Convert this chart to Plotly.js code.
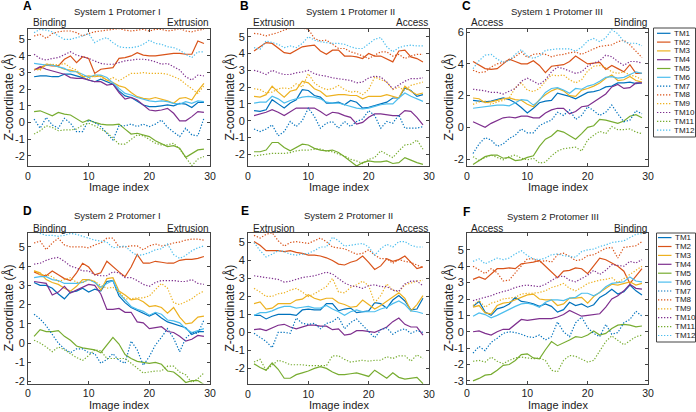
<!DOCTYPE html>
<html><head><meta charset="utf-8">
<script src="https://cdn.plot.ly/plotly-3.0.1.min.js"></script>
<style>html,body{margin:0;padding:0;background:#fff}#chart{width:696px;height:412px}</style>
</head><body><div id="chart"></div>
<script>
const imageIndex = [1,2,3,4,5,6,7,8,9,10,11,12,13,14,15,16,17,18,19,20,21,22,23,24,25,26,27,28,29];
const tmNames = ['TM1','TM2','TM3','TM4','TM5','TM6','TM7','TM8','TM9','TM10','TM11','TM12'];

// Panel A: System 1 Protomer I
const A_TM1 = [2.75,2.8,2.8,2.75,2.75,2.9,2.9,2.8,2.7,2.55,2.45,2.6,2.45,2.3,1.9,1.6,1.5,1.3,1.05,0.95,0.95,1.0,1.05,1.0,1.15,1.1,0.9,1.2,1.2];
const A_TM2 = [3.15,3.3,3.45,3.4,3.4,3.8,4.0,3.6,3.95,3.85,2.95,3.2,3.25,3.3,3.85,3.9,4.0,4.2,4.05,4.0,4.0,4.05,4.1,4.15,4.15,4.1,4.1,4.9,4.75];
const A_TM3 = [3.2,3.2,3.5,3.45,3.35,3.2,3.15,3.05,2.75,2.8,2.75,2.8,2.55,2.4,2.2,2.1,1.8,1.55,1.45,1.4,1.5,1.4,1.3,1.15,1.45,1.5,1.35,1.9,2.35];
const A_TM4 = [3.15,3.35,3.2,3.1,3.0,2.9,2.7,2.65,2.65,2.55,2.45,2.45,2.25,2.3,1.8,1.4,1.5,1.35,1.05,0.75,0.7,0.75,0.85,0.55,0.1,0.1,0.35,0.65,0.6];
const A_TM5 = [0.65,0.7,0.55,0.4,0.6,0.5,0.45,0.2,0.0,0.15,0.0,-0.1,-0.15,-0.15,-0.1,-0.4,-0.7,-0.65,-0.75,-0.85,-1.1,-1.3,-1.45,-1.4,-1.55,-2.1,-1.85,-1.65,-1.6];
const A_TM6 = [3.55,3.5,3.45,3.45,3.35,3.25,3.05,3.05,2.9,2.7,2.85,2.85,2.7,2.35,2.05,1.75,1.65,1.5,1.4,1.3,1.25,1.3,1.25,1.15,1.1,1.25,1.15,1.3,1.25];
const A_TM7 = [0.2,-0.35,0.3,-0.15,-0.35,0.25,-0.05,-0.55,-0.55,0.15,0.0,-0.25,-0.65,-1.05,-0.2,-0.2,-0.1,-0.25,-0.1,-0.25,-0.1,0.15,-0.3,-0.6,-0.85,-0.35,-0.75,-0.8,0.25];
const A_TM8 = [5.2,5.3,5.05,5.35,5.45,5.5,5.5,5.4,5.2,5.35,5.45,5.5,5.55,5.6,5.65,5.55,5.5,5.55,5.6,5.5,5.6,5.6,5.5,5.55,5.65,5.5,5.45,5.55,5.6];
const A_TM9 = [3.2,3.15,3.5,3.5,3.45,3.55,3.3,3.15,2.8,2.6,2.85,2.75,2.5,2.7,2.5,2.75,2.95,2.95,3.0,2.95,2.95,2.95,2.9,2.75,2.6,2.3,2.0,1.75,2.2];
const A_TM10 = [4.1,3.85,3.75,3.85,3.9,4.1,4.25,4.05,3.95,3.85,3.7,3.55,3.5,3.5,3.6,3.7,3.75,3.8,3.8,3.75,3.65,3.5,3.55,3.35,3.15,2.75,2.55,2.85,2.8];
const A_TM11 = [-0.7,-0.5,-0.2,-0.3,-0.5,-0.45,-0.45,-0.4,-0.15,-0.05,-0.2,-0.4,-0.6,-0.95,-1.3,-1.3,-1.05,-0.75,-0.8,-1.0,-1.25,-1.35,-1.35,-1.25,-1.6,-2.1,-2.6,-2.2,-2.05];
const A_TM12 = [5.4,5.6,5.55,5.45,5.2,5.0,5.0,5.1,5.2,5.35,4.8,5.0,5.1,4.8,4.55,4.5,4.5,4.55,4.7,4.95,4.75,4.7,4.55,4.5,4.35,4.1,3.9,4.25,4.25];

// Panel B: System 1 Protomer II
const B_TM1 = [0.6,0.55,0.65,1.25,1.0,0.75,1.05,1.25,1.85,1.8,1.5,1.4,1.05,1.05,1.1,0.95,1.2,1.1,0.75,0.8,0.9,1.0,1.1,1.35,1.35,1.95,1.8,1.45,1.55];
const B_TM2 = [4.15,4.4,4.65,4.6,4.3,4.05,4.0,4.2,4.4,4.45,4.5,4.15,3.95,4.2,4.2,3.85,3.85,3.8,3.7,4.0,3.85,3.85,3.65,3.5,4.15,4.2,3.8,3.7,3.5];
const B_TM3 = [1.45,1.4,1.55,2.05,1.7,1.4,1.75,1.85,2.35,2.25,1.9,1.75,1.45,1.5,1.55,1.55,1.5,1.5,1.3,1.45,1.45,1.45,1.55,1.45,1.35,2.05,1.75,1.55,1.65];
const B_TM4 = [0.3,0.4,0.5,0.65,0.5,0.3,0.5,0.75,0.75,0.75,0.75,0.55,0.3,0.5,0.45,0.3,0.2,-0.2,-0.1,0.2,0.4,0.4,0.35,0.3,0.3,0.6,0.55,0.2,-0.25];
const B_TM5 = [-1.85,-1.85,-1.75,-1.3,-1.3,-1.6,-1.8,-1.6,-1.4,-1.45,-1.65,-1.75,-1.8,-1.75,-1.9,-2.15,-2.45,-2.7,-2.5,-2.4,-2.45,-2.45,-2.4,-2.55,-2.5,-2.2,-2.35,-2.5,-2.6];
const B_TM6 = [1.05,1.1,1.1,1.45,1.3,1.05,1.2,1.3,1.4,1.45,1.4,1.3,1.1,1.05,1.05,0.95,0.85,0.75,0.7,0.75,0.85,0.95,1.0,1.0,1.35,1.65,1.45,1.3,1.15];
const B_TM7 = [-0.5,-0.65,-0.5,-0.25,-0.9,-0.65,-0.05,-0.35,0.0,0.75,0.25,-0.45,-0.15,-0.05,-0.45,-0.05,-0.35,-0.05,0.1,0.6,0.3,-0.45,-0.05,-0.15,0.35,-0.45,-0.45,-0.45,-0.35];
const B_TM8 = [5.2,5.15,5.05,5.15,5.25,5.4,5.5,5.5,5.5,5.45,4.9,4.75,4.8,4.55,4.3,4.3,4.1,4.0,3.85,3.7,3.9,4.1,4.1,3.85,3.95,3.7,3.85,3.95,3.95];
const B_TM9 = [1.9,1.85,1.65,1.7,1.9,1.95,1.9,2.2,2.0,2.8,2.25,2.0,1.85,1.9,2.1,1.85,1.7,1.75,1.55,1.85,2.6,2.45,2.3,1.85,2.0,1.8,2.1,2.2,2.3];
const B_TM10 = [3.0,2.9,2.75,3.0,2.85,2.75,2.75,2.85,2.9,3.0,2.8,2.7,2.65,2.55,2.5,2.45,2.4,2.25,2.3,2.55,2.65,2.6,2.3,1.9,2.15,2.35,2.5,2.5,2.55];
const B_TM11 = [-2.1,-2.05,-2.0,-1.95,-1.95,-1.95,-1.9,-1.8,-1.75,-1.75,-1.7,-1.7,-1.8,-1.85,-2.0,-2.1,-2.3,-2.4,-2.55,-2.3,-2.2,-1.8,-2.0,-2.2,-1.8,-1.45,-1.4,-1.15,-1.7];
const B_TM12 = [4.35,4.25,4.75,4.65,4.55,4.35,4.45,4.35,4.6,5.0,4.8,4.7,4.65,4.6,4.6,4.55,4.4,4.3,4.3,4.6,4.85,4.95,4.4,4.1,4.35,4.45,4.5,4.45,4.45];

// Panel C: System 1 Protomer III
const C_TM1 = [1.7,1.65,1.6,1.65,1.75,1.85,1.75,1.55,1.25,0.9,1.2,1.55,1.65,1.7,2.15,2.05,1.95,1.8,2.0,2.2,2.25,2.35,2.55,2.6,2.8,2.8,2.85,2.75,2.8];
const C_TM2 = [4.15,3.95,3.7,3.65,3.7,4.0,4.3,4.15,4.0,4.0,4.2,3.9,3.45,3.85,3.9,3.95,4.15,4.5,4.25,4.0,4.05,4.1,3.65,3.9,3.7,3.5,3.95,3.4,3.4];
const C_TM3 = [1.85,1.8,1.55,1.6,1.7,1.8,1.85,1.75,1.7,1.45,1.3,1.75,2.05,2.3,2.45,2.3,2.0,1.95,2.35,2.45,2.6,2.8,3.1,3.3,2.95,3.0,3.2,2.95,2.85];
const C_TM4 = [0.35,0.2,0.0,0.25,0.4,0.6,0.65,0.6,0.7,0.7,0.6,0.6,0.9,1.1,1.2,1.2,0.85,1.0,1.3,1.35,1.6,1.85,2.1,2.55,2.7,2.45,2.5,2.8,2.8];
const C_TM5 = [-2.35,-2.1,-1.85,-1.75,-1.75,-1.95,-1.9,-2.1,-2.05,-1.9,-1.8,-1.2,-0.75,-0.55,-0.2,-0.3,-0.55,-0.75,-0.4,0.0,0.1,0.5,0.45,0.35,0.25,0.4,0.7,0.8,0.6];
const C_TM6 = [1.2,1.25,1.3,1.35,1.4,1.4,1.35,1.55,1.75,1.7,1.4,1.7,2.2,2.45,2.5,2.35,2.15,2.45,2.4,2.6,2.7,2.9,3.15,3.2,3.1,3.15,3.3,3.5,3.4];
const C_TM7 = [-1.65,-1.05,-0.65,-0.8,-1.2,-1.05,-0.7,-0.5,-0.1,-0.35,-0.35,0.1,0.3,0.45,0.95,0.75,1.1,0.5,0.75,1.3,1.05,0.75,0.95,1.4,0.85,0.35,0.45,1.05,0.85];
const C_TM8 = [3.6,3.45,3.5,3.8,4.0,4.1,4.25,4.45,4.75,4.4,4.6,4.65,4.6,4.45,4.55,4.6,4.7,4.75,4.6,4.8,4.95,5.1,5.15,5.2,5.4,5.5,5.2,4.8,4.4];
const C_TM9 = [1.45,1.6,1.65,1.45,1.6,1.7,1.85,2.5,2.8,2.35,2.25,2.45,2.9,3.3,3.25,3.3,3.0,2.8,3.0,3.55,3.85,3.9,3.75,3.5,3.4,3.5,3.3,3.2,3.0];
const C_TM10 = [2.4,2.35,2.3,2.2,2.2,2.1,2.25,2.45,2.9,3.1,2.9,2.7,3.0,3.5,3.8,3.7,3.55,3.4,3.5,3.85,4.05,4.2,4.55,4.45,4.15,3.9,4.15,4.15,4.05];
const C_TM11 = [-1.85,-2.1,-1.9,-1.75,-1.9,-2.05,-1.85,-1.75,-1.95,-2.05,-1.95,-2.25,-2.2,-1.8,-1.5,-1.35,-1.3,-1.25,-1.5,-0.8,-0.5,-0.25,-0.4,0.05,-0.15,-0.15,-0.1,-0.3,-0.4];
const C_TM12 = [3.7,4.2,4.55,4.6,4.3,4.1,4.2,4.6,4.9,4.5,4.35,4.5,4.85,4.9,4.95,4.95,4.95,4.8,5.05,5.45,5.6,5.4,5.65,6.15,5.9,5.4,5.3,5.3,5.15];

// Panel D: System 2 Protomer I
const D_TM1 = [3.15,3.0,3.0,2.85,2.55,2.3,2.65,2.7,2.85,2.65,2.8,2.7,3.2,3.25,2.45,2.1,1.85,1.7,1.55,1.4,1.55,1.3,1.1,1.0,0.9,0.8,0.45,0.6,0.6];
const D_TM2 = [3.7,3.55,3.5,3.75,3.55,3.35,3.25,3.65,4.15,3.95,3.55,3.65,4.25,3.95,3.7,3.45,3.95,4.6,4.15,4.15,4.25,4.2,4.15,4.15,4.3,4.35,4.35,4.4,4.5];
const D_TM3 = [3.75,3.65,3.3,3.15,3.05,2.85,2.7,2.95,3.3,3.3,3.2,2.75,3.35,3.4,2.7,2.5,2.25,2.3,2.15,1.9,1.95,1.85,1.55,1.85,1.35,1.0,1.05,1.35,1.4];
const D_TM4 = [3.2,3.15,3.1,2.5,2.65,2.95,2.6,2.75,2.9,3.05,3.0,2.55,1.75,1.75,1.8,1.6,1.6,1.1,1.05,0.75,0.8,0.85,0.6,0.55,0.35,0.1,0.2,0.4,0.35];
const D_TM5 = [0.35,0.7,0.6,0.6,0.65,0.35,0.15,-0.15,-0.25,-0.3,-0.35,-0.5,-0.1,0.3,-0.05,-0.6,-0.8,-0.95,-1.0,-1.05,-1.0,-1.1,-1.45,-1.5,-1.75,-2.05,-1.95,-1.95,-2.15];
const D_TM6 = [3.4,3.45,3.45,3.3,3.25,3.1,3.1,3.1,3.15,3.3,3.15,2.9,3.1,3.25,2.6,2.25,1.9,1.75,1.65,1.45,1.6,1.5,1.2,1.15,1.05,0.75,0.55,0.65,0.75];
const D_TM7 = [1.5,1.25,0.9,0.45,0.0,-0.3,-0.5,-0.3,-0.3,-0.5,-0.55,-1.05,-0.85,-0.55,-0.9,-1.05,0.1,-0.35,-1.15,-0.7,-0.1,0.3,0.75,0.25,-0.45,0.25,0.55,0.5,1.2];
const D_TM8 = [5.2,5.3,4.85,5.2,5.45,5.1,5.0,5.0,5.0,4.95,5.1,5.2,5.45,5.45,5.0,5.0,5.05,5.05,4.85,5.05,5.15,5.05,5.1,5.2,5.25,5.35,5.4,5.4,5.35];
const D_TM9 = [3.75,3.55,3.55,3.45,3.2,3.3,3.4,3.15,3.15,3.3,3.2,3.0,2.85,2.9,2.65,2.3,2.3,2.35,2.35,2.45,2.75,3.1,2.85,2.1,2.0,2.15,2.3,2.55,2.7];
const D_TM10 = [4.1,4.15,4.3,4.4,4.45,4.25,4.0,3.9,3.75,3.75,3.55,3.5,3.5,3.7,3.65,3.4,3.4,3.25,3.05,2.95,3.15,3.25,3.25,3.25,3.2,3.2,3.3,3.1,3.05];
const D_TM11 = [0.15,0.0,-0.2,-0.45,-0.2,-0.35,-0.55,-0.75,-0.9,-0.65,-0.35,-0.4,-0.8,-0.8,-0.8,-0.8,-1.05,-1.3,-1.55,-1.5,-1.45,-1.45,-1.2,-1.2,-1.5,-1.65,-2.05,-1.85,-1.55];
const D_TM12 = [5.8,5.7,5.6,5.6,5.55,5.6,5.7,5.65,5.55,5.45,5.35,5.3,5.25,4.95,5.0,5.05,4.75,4.55,4.6,4.7,4.85,4.9,5.15,4.6,4.4,4.55,4.8,4.95,5.05];

// Panel E: System 2 Protomer II
const E_TM1 = [0.95,0.95,0.75,0.9,1.0,1.0,1.0,0.95,1.25,1.3,1.25,1.25,1.6,1.6,1.2,1.3,1.35,1.1,1.15,1.2,1.65,1.6,1.35,1.8,2.05,1.75,1.25,1.3,1.9];
const E_TM2 = [5.05,4.85,4.55,4.55,4.55,4.5,4.55,4.45,4.4,4.3,4.3,4.25,4.15,4.0,3.8,3.75,3.9,4.0,4.25,3.9,3.5,3.7,4.1,3.95,4.05,4.25,3.9,3.55,3.65];
const E_TM3 = [1.6,1.7,1.3,1.35,1.6,1.6,1.6,1.8,1.85,2.1,1.9,1.8,1.9,1.9,1.65,1.55,1.4,1.45,1.8,1.55,1.3,1.5,1.75,2.0,2.2,1.9,1.2,1.55,2.05];
const E_TM4 = [0.15,0.2,0.1,0.25,0.4,0.45,0.3,0.2,0.3,0.4,0.4,0.35,0.35,0.15,0.2,-0.15,-0.1,0.1,0.1,0.05,0.0,0.15,0.3,0.6,0.8,0.45,0.3,0.3,-0.15];
const E_TM5 = [-1.75,-1.95,-2.1,-1.7,-2.05,-2.55,-2.55,-2.35,-2.25,-2.15,-2.0,-1.9,-2.0,-2.2,-2.35,-2.35,-2.3,-2.25,-2.35,-2.45,-2.1,-2.35,-2.55,-2.25,-2.5,-2.6,-2.55,-2.5,-2.85];
const E_TM6 = [0.95,1.1,1.1,1.2,1.35,1.45,1.45,1.35,1.4,1.45,1.35,1.35,1.5,1.3,1.15,0.95,1.15,1.25,1.15,1.15,1.15,1.3,1.4,1.6,1.75,1.55,1.2,1.15,1.05];
const E_TM7 = [-0.05,-0.3,-0.5,-0.85,0.0,0.0,-0.05,0.8,0.5,0.45,0.5,0.2,0.5,0.6,0.85,0.2,0.55,0.75,0.4,0.0,-0.3,0.15,0.25,-0.1,0.1,0.2,-0.05,0.1,0.0];
const E_TM8 = [5.4,5.25,5.45,5.55,5.1,4.8,5.0,5.05,5.0,4.95,5.1,5.25,5.05,4.75,4.7,4.65,4.5,4.35,4.4,4.6,4.3,4.1,4.1,3.85,4.05,3.95,3.9,3.75,3.6];
const E_TM9 = [2.45,2.25,2.0,2.0,2.15,2.2,2.35,2.45,2.25,2.0,2.15,2.35,2.55,3.0,2.25,2.2,2.5,2.65,2.85,2.6,1.65,2.05,2.7,2.35,2.25,2.65,2.75,2.85,2.9];
const E_TM10 = [3.15,3.1,3.05,3.0,2.95,2.8,2.85,2.95,3.05,3.1,3.15,3.25,3.35,3.25,3.0,2.75,2.6,2.55,2.45,2.6,2.65,2.55,2.55,2.35,2.3,2.7,2.85,2.85,2.6];
const E_TM11 = [-1.65,-1.5,-2.1,-1.8,-1.55,-1.65,-1.8,-1.8,-1.8,-1.85,-1.85,-1.85,-1.85,-1.3,-1.3,-1.5,-1.65,-1.6,-1.55,-1.6,-1.55,-1.55,-1.35,-1.45,-1.3,-1.3,-1.6,-1.25,-1.45];
const E_TM12 = [5.0,4.55,4.2,4.35,4.55,4.5,4.35,4.3,4.35,4.4,4.55,4.75,4.75,5.3,5.1,4.8,4.85,4.9,4.95,4.75,4.3,4.65,4.9,4.75,5.05,5.05,4.85,4.75,4.75];

// Panel F: System 2 Protomer III
const F_TM1 = [1.55,1.85,1.2,1.0,1.4,1.5,1.7,2.1,1.85,1.8,1.7,1.55,1.7,1.55,1.2,1.35,1.8,1.6,1.7,1.5,1.65,2.1,2.3,2.6,2.3,2.45,2.85,2.5,2.25];
const F_TM2 = [3.2,3.35,3.2,3.5,3.85,3.85,3.9,3.85,4.15,4.2,4.25,4.35,4.0,3.65,3.3,3.7,3.75,3.9,3.85,3.55,4.05,4.5,4.4,4.2,4.0,3.7,2.95,3.4,3.85];
const F_TM3 = [1.5,1.6,1.15,1.1,1.6,1.75,1.8,1.95,2.1,2.25,2.3,2.0,1.95,1.95,1.6,1.7,2.05,2.05,2.1,1.75,2.15,2.4,2.6,2.9,2.85,2.95,3.05,2.85,2.95];
const F_TM4 = [0.0,0.05,-0.1,-0.2,0.0,0.15,0.15,0.45,0.75,0.7,0.75,0.8,0.8,0.8,0.9,1.05,1.3,1.15,0.95,1.0,1.05,1.1,1.5,2.0,2.2,2.5,2.9,2.65,2.6];
const F_TM5 = [-3.0,-2.85,-2.65,-2.6,-2.35,-2.05,-2.0,-1.75,-1.4,-1.35,-1.6,-1.65,-1.1,-0.6,-0.85,-0.7,-0.5,-0.3,-0.35,-0.2,0.05,-0.2,-0.1,0.2,0.4,0.45,0.4,0.3,0.35];
const F_TM6 = [0.95,1.15,1.05,0.85,1.0,1.2,1.4,1.55,1.7,1.75,1.65,1.5,1.8,1.95,1.95,1.9,2.05,2.1,2.35,2.35,2.2,2.4,2.75,2.95,3.0,3.05,3.35,3.1,3.05];
const F_TM7 = [-1.3,-0.9,-1.15,-0.65,-0.4,-0.1,0.0,-0.05,-0.15,-0.3,-0.35,-0.2,-0.5,-0.3,0.6,0.0,-0.3,0.55,0.9,0.25,-0.1,-0.3,0.45,-0.15,-0.05,0.55,0.75,1.25,0.95];
const F_TM8 = [4.0,3.75,3.55,3.85,3.6,3.1,3.15,3.6,4.0,4.45,4.45,4.25,4.35,4.25,4.7,4.8,4.6,4.35,4.4,4.65,4.7,4.9,5.1,5.15,4.5,5.15,5.2,5.25,5.5];
const F_TM9 = [1.6,1.9,1.5,1.75,1.85,2.0,2.05,2.1,2.3,2.35,2.35,2.4,2.5,2.7,2.8,2.95,2.65,2.5,2.7,2.95,3.05,3.15,3.2,3.3,3.0,3.25,3.45,3.75,4.0];
const F_TM10 = [1.9,2.0,2.1,2.2,2.35,2.45,2.55,2.7,2.8,2.85,2.8,2.75,2.9,3.1,3.35,3.4,3.15,3.05,3.25,3.45,3.75,3.5,3.75,4.1,4.05,4.0,4.3,4.2,4.4];
const F_TM11 = [-1.8,-1.75,-1.85,-1.55,-1.8,-1.95,-1.75,-1.6,-1.55,-1.6,-1.65,-1.6,-1.75,-2.35,-2.45,-1.75,-1.45,-1.5,-1.7,-1.85,-1.75,-1.2,-0.6,-0.25,-0.55,-0.8,-0.55,-0.3,-0.2];
const F_TM12 = [4.3,4.45,4.15,4.35,4.5,4.4,4.5,4.75,4.95,4.65,4.45,4.4,4.5,4.7,4.75,4.65,4.6,4.55,4.9,5.0,5.05,5.2,5.3,5.45,5.5,5.55,5.75,5.95,6.0];

const W = 696, H = 412;
const tmColors = ['#0072BD','#D95319','#EDB120','#7E2F8E','#77AC30','#4DBEEE','#0072BD','#D95319','#EDB120','#7E2F8E','#77AC30','#4DBEEE'];
const DOT = '1.3px,1.7px';
const tmDash = ['solid','solid','solid','solid','solid','solid',DOT,DOT,DOT,DOT,DOT,DOT];

const panels = [
  {letter:'A', title:'System 1 Protomer I', left:'Binding', right:'Extrusion', series:[A_TM1,A_TM2,A_TM3,A_TM4,A_TM5,A_TM6,A_TM7,A_TM8,A_TM9,A_TM10,A_TM11,A_TM12],
   yr:[-2.62,5.62], yt:[-2,-1,0,1,2,3,4,5], box:[28,210,29,166], letterPos:[27,6], titlePos:[117,12], sideY:23, ytitleX:8, xtitleY:186.5},
  {letter:'B', title:'System 1 Protomer II', left:'Extrusion', right:'Access', series:[B_TM1,B_TM2,B_TM3,B_TM4,B_TM5,B_TM6,B_TM7,B_TM8,B_TM9,B_TM10,B_TM11,B_TM12],
   yr:[-2.7,5.46], yt:[-2,-1,0,1,2,3,4,5], box:[248,429,29,166], letterPos:[245,6], titlePos:[350,12], sideY:23, ytitleX:229, xtitleY:186.5},
  {letter:'C', title:'System 1 Protomer III', left:'Access', right:'Binding', series:[C_TM1,C_TM2,C_TM3,C_TM4,C_TM5,C_TM6,C_TM7,C_TM8,C_TM9,C_TM10,C_TM11,C_TM12],
   yr:[-2.44,6.2], yt:[-2,0,2,4,6], box:[467,648,29,166], letterPos:[466,6], titlePos:[557,12], sideY:23, ytitleX:448, xtitleY:186.5},
  {letter:'D', title:'System 2 Protomer I', left:'Binding', right:'Extrusion', series:[D_TM1,D_TM2,D_TM3,D_TM4,D_TM5,D_TM6,D_TM7,D_TM8,D_TM9,D_TM10,D_TM11,D_TM12],
   yr:[-2.1,5.72], yt:[-2,-1,0,1,2,3,4,5], box:[28,210,233,383.5], letterPos:[27,211], titlePos:[117,215], sideY:228, ytitleX:8, xtitleY:404.5},
  {letter:'E', title:'System 2 Protomer II', left:'Extrusion', right:'Access', series:[E_TM1,E_TM2,E_TM3,E_TM4,E_TM5,E_TM6,E_TM7,E_TM8,E_TM9,E_TM10,E_TM11,E_TM12],
   yr:[-2.87,5.53], yt:[-2,-1,0,1,2,3,4,5], box:[248,429,233,384], letterPos:[245,211], titlePos:[349,215.5], sideY:228, ytitleX:229, xtitleY:404.5},
  {letter:'F', title:'System 2 Protomer III', left:'Access', right:'Binding', series:[F_TM1,F_TM2,F_TM3,F_TM4,F_TM5,F_TM6,F_TM7,F_TM8,F_TM9,F_TM10,F_TM11,F_TM12],
   yr:[-3.16,6.03], yt:[-3,-2,-1,0,1,2,3,4,5], box:[467,648,233,383.5], letterPos:[466,212], titlePos:[553,216], sideY:228, ytitleX:448, xtitleY:404.5}
];

const FONT = 'Liberation Sans, Arial, Helvetica, sans-serif';
const px = v => v / W;
const py = v => 1 - v / H;

const traces = [];
const layout = {
  width: W, height: H,
  margin: {l:0, r:0, t:0, b:0},
  paper_bgcolor: '#fff', plot_bgcolor: '#fff',
  showlegend: false,
  font: {family: FONT, color: '#222'},
  annotations: [], shapes: []
};

panels.forEach((p, k) => {
  const n = k + 1;
  const xs = n === 1 ? '' : String(n);
  p.series.forEach((s, i) => {
    traces.push({
      type: 'scatter', mode: 'lines', name: tmNames[i],
      x: imageIndex, y: s,
      xaxis: 'x' + xs, yaxis: 'y' + xs,
      line: {color: tmColors[i], width: 1.2, dash: tmDash[i]},
      hoverinfo: 'skip'
    });
  });
  const [l, r, t, b] = p.box;
  const common = {
    showline: true, mirror: 'ticks', linecolor: '#444', linewidth: 1,
    ticks: 'inside', ticklen: 3, tickcolor: '#444', tickwidth: 1,
    showgrid: false, zeroline: false
  };
  layout['xaxis' + xs] = Object.assign({}, common, {
    domain: [px(l), px(r)], range: [0, 30], anchor: 'y' + xs,
    tickvals: [0, 10, 20, 30], ticktext: ['0', '10', '20', '30'],
    tickfont: {family: FONT, size: 10.5, color: '#222'}
  });
  layout['yaxis' + xs] = Object.assign({}, common, {
    domain: [py(b), py(t)], range: p.yr, anchor: 'x' + xs,
    tickvals: p.yt, ticktext: p.yt.map(v => String(v)),
    tickfont: {family: FONT, size: 11, color: '#222'}
  });
  const A = layout.annotations;
  A.push({xref:'paper', yref:'paper', x:px(p.letterPos[0]), y:py(p.letterPos[1]), text:'<b>'+p.letter+'</b>',
          showarrow:false, xanchor:'center', yanchor:'middle', font:{family:FONT, size:12, color:'#000'}});
  A.push({xref:'paper', yref:'paper', x:px(p.titlePos[0]), y:py(p.titlePos[1]), text:p.title,
          showarrow:false, xanchor:'center', yanchor:'middle', font:{family:FONT, size:9.5, color:'#222'}});
  A.push({xref:'paper', yref:'paper', x:px(l + 2.5), y:py(p.sideY), text:p.left,
          showarrow:false, xanchor:'left', yanchor:'middle', font:{family:FONT, size:10, color:'#222'}});
  A.push({xref:'paper', yref:'paper', x:px(r + 1), y:py(p.sideY), text:p.right,
          showarrow:false, xanchor:'right', yanchor:'middle', font:{family:FONT, size:10, color:'#222'}});
  A.push({xref:'paper', yref:'paper', x:px((l + r) / 2), y:py(p.xtitleY), text:'Image index',
          showarrow:false, xanchor:'center', yanchor:'middle', font:{family:FONT, size:11, color:'#222'}});
  A.push({xref:'paper', yref:'paper', x:px(p.ytitleX), y:py((t + b) / 2), text:'Z-coordinate (Å)', textangle:-90,
          showarrow:false, xanchor:'center', yanchor:'middle', font:{family:FONT, size:12, color:'#222'}});
});

// Legends (panels C and F)
const legends = [
  {box:[653.5, 695.5, 28, 137], y0:33.3, dy:8.8, lx:[657, 670.5], tx:671.5},
  {box:[656.5, 695.5, 233, 342], y0:237.6, dy:8.9, lx:[658, 671.5], tx:672.5}
];
legends.forEach(g => {
  layout.shapes.push({type:'rect', xref:'paper', yref:'paper', x0:px(g.box[0]), x1:px(g.box[1]), y0:py(g.box[3]), y1:py(g.box[2]),
                      line:{color:'#444', width:1}, fillcolor:'#fff'});
  tmNames.forEach((nm, i) => {
    const yy = g.y0 + i * g.dy;
    layout.shapes.push({type:'line', xref:'paper', yref:'paper', x0:px(g.lx[0]), x1:px(g.lx[1]), y0:py(yy), y1:py(yy),
                        line:{color:tmColors[i], width:1.2, dash:tmDash[i]}});
    layout.annotations.push({xref:'paper', yref:'paper', x:px(g.tx), y:py(yy), text:nm, showarrow:false,
                             xanchor:'left', yanchor:'middle', font:{family:FONT, size:8, color:'#222'}});
  });
});

Plotly.newPlot('chart', traces, layout, {staticPlot:true, displayModeBar:false});
</script></body></html>
